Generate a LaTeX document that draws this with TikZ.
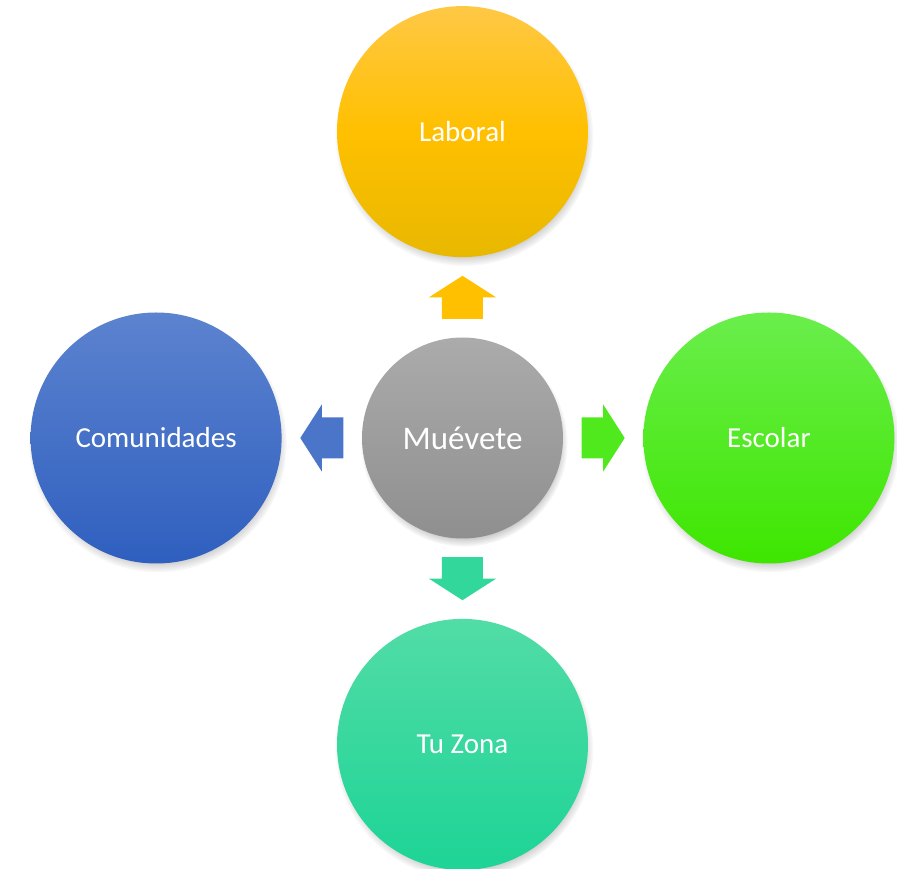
\documentclass[tikz,border=0pt]{standalone}
\usepackage{fontspec}
\setmainfont{Carlito}
\usetikzlibrary{positioning,calc,shadows}

\definecolor{labtop}{HTML}{FFC845}
\definecolor{labmid}{HTML}{FFC000}
\definecolor{labbot}{HTML}{E8B800}
\definecolor{comtop}{HTML}{5C83CF}
\definecolor{combot}{HTML}{2F5FBF}
\definecolor{esctop}{HTML}{6AEE4C}
\definecolor{escbot}{HTML}{3EE600}
\definecolor{zontop}{HTML}{52DCA6}
\definecolor{zonbot}{HTML}{1DD496}
\definecolor{midtop}{HTML}{ABABAB}
\definecolor{midbot}{HTML}{8F8F8F}

\tikzset{
	blockarr/.pic={
		\path[pic actions] (-21.5,-20.5) -- (0,-20.5) -- (0,-33.5) -- (21.5,0)
			-- (0,33.5) -- (0,20.5) -- (-21.5,20.5) -- cycle;
	}
}

\begin{document}
\begin{tikzpicture}[
	x=1pt, y=1pt, node distance=80pt,
	bubble/.style={circle, minimum size=251pt, inner sep=0pt, text=white,
	font=\fontsize{29}{35}\selectfont,
	circular drop shadow={shadow xshift=1.5pt, shadow yshift=-5pt, shadow scale=1.03, opacity=.7}},
	arrshadow/.style={drop shadow={shadow xshift=1pt, shadow yshift=-1pt, opacity=.3}}
	]
	\useasboundingbox (-462.5,-431) rectangle (434.5,438);

	\node[bubble, minimum size=201pt, top color=midtop, bottom color=midbot,
		font=\fontsize{33}{40}\selectfont] (mid) {Muévete};
	\node[bubble, top color=labtop, bottom color=labbot, middle color=labmid] (lab) [above=of mid] {Laboral};
	\node[bubble, top color=comtop, bottom color=combot] (com) [left=of mid] {Comunidades};
	\node[bubble, top color=esctop, bottom color=escbot] (esc) [right=of mid] {Escolar};
	\node[bubble, top color=zontop, bottom color=zonbot] (zon) [below=of mid] {Tu Zona};

	\pic[rotate=90, fill=labmid, arrshadow] at ($(mid.north)!.5!(lab.south)$) {blockarr};
	\pic[rotate=180, fill=comtop!60!combot, arrshadow] at ($(mid.west)!.5!(com.east)$) {blockarr};
	\pic[fill=esctop!40!escbot, arrshadow] at ($(mid.east)!.5!(esc.west)$) {blockarr};
	\pic[rotate=-90, fill=zontop!40!zonbot, arrshadow] at ($(mid.south)!.5!(zon.north)$) {blockarr};
\end{tikzpicture}
\end{document}
